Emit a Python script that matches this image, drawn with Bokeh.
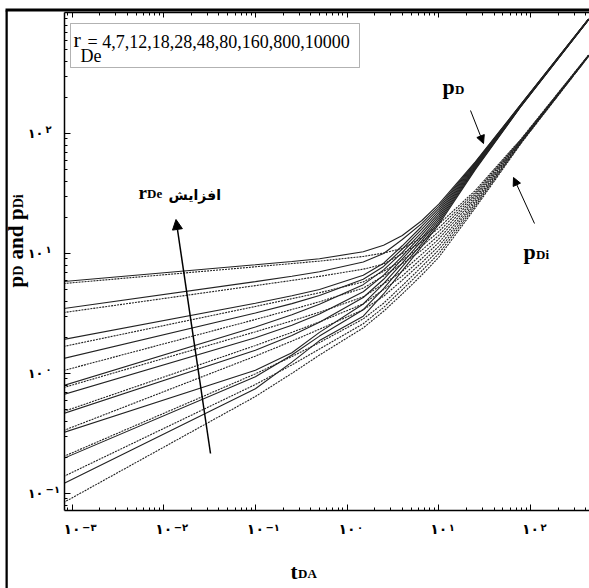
import math
from bokeh.plotting import figure
from bokeh.models import (Range1d, LogAxis, FixedTicker, CustomJSTickFormatter, Label,
                          Arrow, NormalHead, BoxAnnotation)
from bokeh.embed import file_html
from bokeh.resources import INLINE

# ---------------- data ----------------
T_DA = [0.00081, 0.1, 0.25, 0.5, 1.5, 2.5, 4, 6.5, 10, 25, 80, 430]
R_DE = [4, 7, 12, 18, 28, 48, 80, 160, 800, 10000]

PD_4     = [0.121, 0.747, 1.245, 1.88, 3.0, 4.6, 7.2, 11.4, 17.5, 50.0, 171.0, 885]
PD_7     = [0.196, 0.940, 1.428, 2.05, 3.4, 5.1, 7.76, 12.04, 18.27, 50.8, 171.8, 887]
PD_12    = [0.322, 1.065, 1.490, 2.2, 3.8, 5.6, 8.36, 12.73, 19.08, 51.7, 172.5, 889]
PD_18    = [0.464, 1.561, 2.073, 2.67, 4.3, 6.1, 9.01, 13.45, 19.92, 52.6, 173.3, 891]
PD_28    = [0.668, 1.984, 2.528, 3.13, 4.8, 6.6, 9.5, 14.22, 20.79, 53.5, 174.1, 893]
PD_48    = [0.794, 2.44, 3.092, 3.78, 5.5, 7.3, 10.2, 15.02, 21.71, 54.4, 174.8, 895]
PD_80    = [1.334, 3.19, 3.824, 4.46, 6.1, 7.8, 10.9, 15.88, 22.67, 55.3, 175.6, 897]
PD_160   = [1.92, 3.85, 4.442, 5.02, 6.6, 8.3, 11.6, 16.79, 23.66, 56.3, 176.4, 899]
PD_800   = [3.48, 5.83, 6.46, 7.05, 8.5, 10.0, 13.09, 17.74, 24.71, 57.2, 177.2, 901]
PD_10000 = [5.84, 8.05, 8.58, 9.05, 10.33, 11.70, 14.11, 18.74, 25.8, 58.1, 178.0, 903]

PDI_4     = [0.0841, 0.643, 1.003, 1.425, 2.4, 3.3, 4.6, 6.6, 9.3, 24.0, 84.0, 440]
PDI_7     = [0.1386, 0.810, 1.180, 1.60, 2.6, 3.55, 5.0, 7.15, 9.98, 24.9, 84.8, 441]
PDI_12    = [0.2034, 0.994, 1.384, 1.81, 2.85, 3.85, 5.4, 7.74, 10.70, 25.85, 85.5, 442]
PDI_18    = [0.335, 1.396, 1.861, 2.34, 3.4, 4.4, 6.0, 8.38, 11.48, 26.8, 86.3, 443.5]
PDI_28    = [0.4825, 1.711, 2.203, 2.69, 3.8, 5.0, 6.5, 9.07, 12.32, 27.8, 87.1, 445]
PDI_48    = [0.764, 2.226, 2.747, 3.24, 4.35, 5.6, 7.1, 9.82, 13.21, 28.9, 87.9, 446]
PDI_80    = [1.059, 2.82, 3.414, 3.96, 5.15, 6.5, 8.23, 10.63, 14.17, 30.0, 88.6, 447.5]
PDI_160   = [1.68, 3.62, 4.201, 4.71, 5.8, 7.1, 8.8, 11.51, 15.21, 31.1, 89.4, 448.5]
PDI_800   = [3.22, 5.40, 5.965, 6.45, 7.4, 8.15, 9.99, 12.47, 16.31, 32.3, 90.2, 450]
PDI_10000 = [5.62, 7.75, 8.245, 8.64, 9.45, 10.08, 11.01, 13.5, 17.5, 33.5, 91.0, 451]

PD_CURVES = [PD_4, PD_7, PD_12, PD_18, PD_28, PD_48, PD_80, PD_160, PD_800, PD_10000]
PDI_CURVES = [PDI_4, PDI_7, PDI_12, PDI_18, PDI_28, PDI_48, PDI_80, PDI_160, PDI_800, PDI_10000]

X_TICKS = [0.001, 0.01, 0.1, 1, 10, 100]
X_TICK_EXP = ["\u2212\u06f3", "\u2212\u06f2", "\u2212\u06f1", "\u06f0", "\u06f1", "\u06f2"]
Y_TICKS = [0.1, 1, 10, 100]
Y_TICK_EXP = ["\u2212\u06f1", "\u06f0", "\u06f1", "\u06f2"]
TICK_BASE = "\u06f1\u06f0"
INCREASE = "\u0627\u0641\u0632\u0627\u06cc\u0634"

# ---------------- geometry (page px) ----------------
VW, H = 589, 588                  # visible page area
FL, FT, FB = 64, 12, 510          # frame left / top / bottom on the page
SHIFT = 386                       # hidden margin at the left that holds the outer texts' panel
W = VW + SHIFT
DEC_X, DEC_Y = 91.7, 120.0
XS_L = -3 - 7.5 / DEC_X
YS_L = -1 - 17 / DEC_Y
XE_L = XS_L + (VW - FL) / DEC_X
YE_L = YS_L + (FB - FT) / DEC_Y


def xat(px):
    return 10 ** (XS_L + (px - FL) / DEC_X)


def yat(py):
    return 10 ** (YS_L + (FB - py) / DEC_Y)


def minors(lo, hi):
    return [m * 10 ** k for k in range(lo, hi) for m in range(2, 10)]


p = figure(width=W, height=H, x_axis_type="log", y_axis_type="log",
           x_range=Range1d(10 ** XS_L, 10 ** XE_L), y_range=Range1d(10 ** YS_L, 10 ** YE_L),
           output_backend="svg", toolbar_location=None,
           min_border_left=FL + SHIFT, min_border_right=0, min_border_top=FT,
           min_border_bottom=H - FB,
           styles={"margin-left": f"-{SHIFT}px"})
p.grid.visible = False
p.outline_line_color = None
p.background_fill_color = "white"
p.border_fill_color = "white"

fmt = CustomJSTickFormatter(args=dict(base=TICK_BASE), code="return base;")
p.xaxis.ticker = FixedTicker(ticks=X_TICKS, minor_ticks=minors(-4, 3))
p.yaxis.ticker = FixedTicker(ticks=Y_TICKS, minor_ticks=minors(-2, 3))
for ax in (p.xaxis[0], p.yaxis[0]):
    ax.formatter = fmt
    ax.major_tick_in = 6
    ax.major_tick_out = 0
    ax.minor_tick_in = 3
    ax.minor_tick_out = 0
    ax.axis_line_width = 1.5
    ax.axis_line_color = "black"
    ax.major_tick_line_color = "black"
    ax.minor_tick_line_color = "black"
    ax.major_label_text_font = "DejaVu Sans"
    ax.major_label_text_font_style = "bold"
    ax.major_label_text_color = "black"
p.xaxis.major_label_text_font_size = "14px"
p.yaxis.major_label_text_font_size = "13px"
p.xaxis.major_label_standoff = 10
p.yaxis.major_label_standoff = 21

top = LogAxis(ticker=FixedTicker(ticks=X_TICKS, minor_ticks=minors(-4, 3)),
              major_label_text_font_size="1px", major_label_text_alpha=0.0,
              major_label_standoff=0,
              major_tick_in=5, major_tick_out=0, minor_tick_in=3, minor_tick_out=0,
              axis_line_width=1.5)
p.add_layout(top, "above")

for y in PD_CURVES:
    p.line(T_DA, y, line_color="#222222", line_width=1.1)
for y in PDI_CURVES:
    p.line(T_DA, y, line_color="#222222", line_width=1.1, line_dash="2 1")

BASE_SHIFT = 0.28   # the alphabetic baseline sits this many em lower than asked; compensate


def lab(px, py, text, size, font="Liberation Serif", style="bold", angle=0.0,
        baseline="alphabetic", side=None):
    if baseline == "alphabetic":
        if angle == 0.0:
            py -= BASE_SHIFT * size
        else:
            px -= BASE_SHIFT * size
    lb = Label(x=xat(px), y=yat(py), text=text, text_font=font, text_font_style=style,
               text_font_size=f"{size}px", text_align="left", text_baseline=baseline,
               angle=angle, text_color="black")
    if side is None:
        p.add_layout(lb)
    else:
        p.add_layout(lb, side)


# outer page frame (thick black lines at the left and top of the page)
try:
    p.add_layout(Label(x=xat(5), y=yat(H + 2), text=" ", text_font_size="1px",
                       text_align="left", text_baseline="bottom",
                       background_fill_color="black", border_line_color=None,
                       padding=dict(left=0, right=2, top=H - 9, bottom=0)), "left")
    p.add_layout(Label(x=xat(5), y=yat(8), text=" ", text_font_size="1px",
                       text_align="left", text_baseline="top",
                       background_fill_color="black", border_line_color=None,
                       padding=dict(left=0, right=VW, top=0, bottom=2)), "above")
except Exception:
    pass

# tick exponents (texts outside the frame live in the hidden left panel)
for t, e in zip(X_TICKS, X_TICK_EXP):
    px = FL + (math.log10(t) - XS_L) * DEC_X
    lab(px + 10, 521, e, 10, font="DejaVu Sans", baseline="top", side="left")
for t, e in zip(Y_TICKS, Y_TICK_EXP):
    py = FB - (math.log10(t) - YS_L) * DEC_Y
    lab(45, py - 4, e, 10, font="DejaVu Sans", baseline="middle", side="left")

# y axis title  p_D and p_Di (rotated)
R = math.pi / 2
lab(21, 287, "p", 21, angle=R, side="left")
lab(22, 275.3, "D", 14, angle=R, side="left")
lab(21, 259, "and", 21, angle=R, side="left")
lab(21, 219.5, "p", 21, angle=R, side="left")
lab(22, 207.8, "Di", 14, angle=R, side="left")

# x axis title t_DA
lab(290, 577, "t", 21, side="left")
lab(297.5, 577, "DA", 13, side="left")

# legend box
p.add_layout(BoxAnnotation(left=xat(70), right=xat(359), top=yat(23), bottom=yat(67),
                           fill_color="white", fill_alpha=1, line_color="black", line_width=1))
lab(73, 45, "r", 22, style="normal")
lab(80, 61, "De", 18, style="normal")
lab(87, 47, "= " + ",".join(str(r) for r in R_DE), 18, style="normal")

# increasing r_De annotation
lab(138, 197, "r", 19)
lab(146.5, 197, "De", 13)
lab(168, 198, INCREASE, 14, font="DejaVu Sans")
p.add_layout(Arrow(end=NormalHead(size=10, fill_color="black", line_color="black"),
                   x_start=xat(210), y_start=yat(453), x_end=xat(175.5), y_end=yat(219),
                   line_width=1.5, line_color="black"))

# p_D and p_Di annotations
lab(442, 92, "p", 22)
lab(454.5, 93, "D", 13)
p.add_layout(Arrow(end=NormalHead(size=8, fill_color="black", line_color="black"),
                   x_start=xat(470), y_start=yat(110), x_end=xat(483), y_end=yat(143),
                   line_width=1, line_color="black"))
lab(523, 257, "p", 22)
lab(535.5, 258, "Di", 13)
p.add_layout(Arrow(end=NormalHead(size=8, fill_color="black", line_color="black"),
                   x_start=xat(534), y_start=yat(223), x_end=xat(513), y_end=yat(177),
                   line_width=1, line_color="black"))

open("out.html", "w").write(file_html(p, INLINE))
